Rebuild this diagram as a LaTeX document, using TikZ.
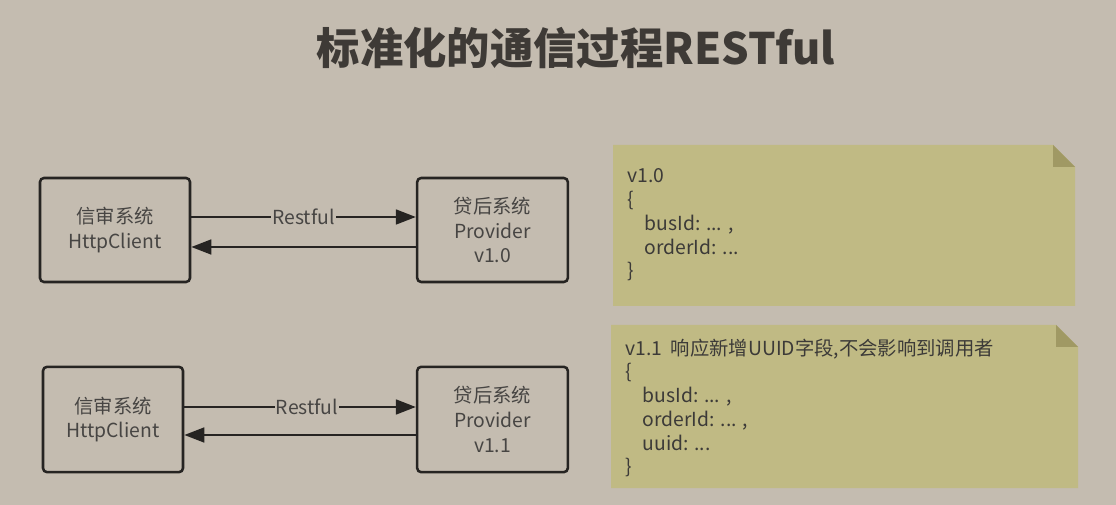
\documentclass[tikz,border=0pt]{standalone}
\usepackage{fontspec}
\setmainfont{Noto Sans CJK SC}
\usetikzlibrary{arrows.meta,calc}
\definecolor{bgc}{RGB}{196,188,176}
\definecolor{memofill}{RGB}{192,186,132}
\definecolor{memofold}{RGB}{160,153,100}
\definecolor{ink}{RGB}{38,36,34}
\definecolor{hdrink}{RGB}{62,58,54}
\tikzset{
  sys/.style={draw=ink,line width=1.9pt,rounded corners=3pt,text=ink!85,
              align=center,font=\fontsize{14.5}{18.5}\selectfont,inner sep=0pt},
  ar/.style ={-{Triangle[length=15pt,width=11pt]},draw=ink,line width=2pt},
  lbl/.style={fill=bgc,inner sep=1pt,text=ink!85,font=\fontsize{14.5}{16}\selectfont},
  memo/.style={fill=memofill},
  fold/.style={fill=memofold},
  memotxt/.style={anchor=west,align=left,text=ink!90,inner sep=0pt,
              font=\fontsize{14.5}{17.8}\selectfont},
  hdr/.style={font=\fontsize{32.5}{36}\selectfont\bfseries,text=hdrink},
}
\newcommand{\ind}{\hspace*{0.9em}}

\begin{document}
\begin{tikzpicture}[x=0.75pt,y=-0.75pt]
  \fill[bgc] (0,0) rectangle (1116,505);
  \useasboundingbox (0,0) rectangle (1116,505);
  \node[hdr] (title) at (576,48) {标准化的通信过程RESTful};
  % v1.0
  \node[sys,minimum width=112.5pt,minimum height=78pt] (cl1) at (115,230)
       {信审系统\\HttpClient};
  \node[sys,minimum width=113pt,minimum height=78pt] (pr1) at (492.5,230)
       {贷后系统\\Provider\\v1.0};
  \draw[ar] ($(cl1.east)+(0,-13)$) -- node[lbl]{Restful} ($(pr1.west)+(0,-13)$);
  \draw[ar] ($(pr1.west)+(0,17)$) -- ($(cl1.east)+(0,17)$);
  % v1.1
  \node[sys,minimum width=105pt,minimum height=79pt] (cl2) at (113,419.5)
       {信审系统\\HttpClient};
  \node[sys,minimum width=113pt,minimum height=79pt] (pr2) at (492.5,419.5)
       {贷后系统\\Provider\\v1.1};
  \draw[ar] ($(cl2.east)+(0,-12.5)$) -- node[lbl,pos=.53]{Restful} ($(pr2.west)+(0,-12.5)$);
  \draw[ar] ($(pr2.west)+(0,15.5)$) -- ($(cl2.east)+(0,15.5)$);
  % notes
  \fill[memo] (613,145) -- (1053,145) -- (1075,167) -- (1075,306) -- (613,306) -- cycle;
  \fill[fold] (1053,145) -- (1053,167) -- (1075,167) -- cycle;
  \node[memotxt] (m1) at (627,225)
       {v1.0\\\{\\\ind busId: ... ,\\\ind orderId: ...\\\}};
  \fill[memo] (611,325) -- (1056,325) -- (1078,347) -- (1078,488) -- (611,488) -- cycle;
  \fill[fold] (1056,325) -- (1056,347) -- (1078,347) -- cycle;
  \node[memotxt] (m2) at (625,408)
       {v1.1\ \ 响应新增UUID字段,不会影响到调用者\\\{\\\ind busId: ... ,\\\ind orderId: ... ,\\\ind uuid: ...\\\}};
\end{tikzpicture}
\end{document}
